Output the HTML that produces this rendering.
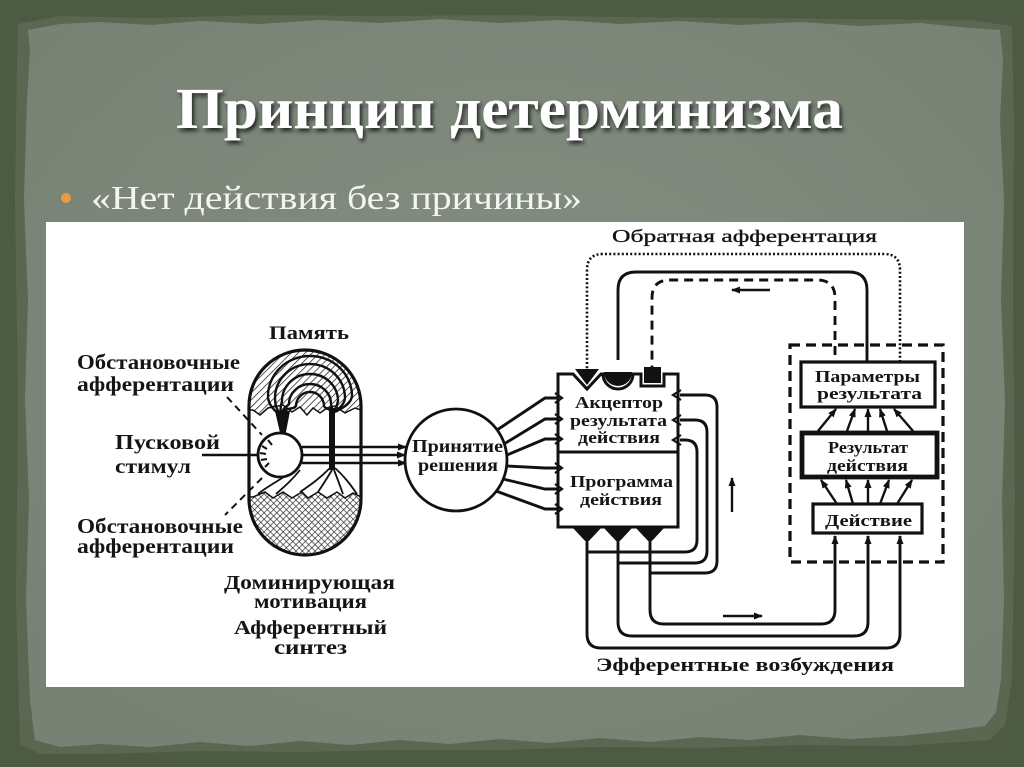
<!DOCTYPE html>
<html>
<head>
<meta charset="utf-8">
<style>
html,body{margin:0;padding:0;width:1024px;height:767px;overflow:hidden;background:#4f5c46;}
svg{display:block;}
.t{font-family:"Liberation Serif","DejaVu Serif",serif;font-weight:bold;fill:#151515;}
.tn{font-family:"Liberation Serif","DejaVu Serif",serif;font-weight:normal;fill:#151515;stroke:#151515;stroke-width:0.35;}
</style>
</head>
<body>
<svg width="1024" height="767" viewBox="0 0 1024 767" xmlns="http://www.w3.org/2000/svg">
<defs>
  <radialGradient id="pg" cx="50%" cy="45%" r="65%">
    <stop offset="0" stop-color="#848e82"/>
    <stop offset="1" stop-color="#778274"/>
  </radialGradient>
  <filter id="sh" x="-5%" y="-20%" width="110%" height="150%">
    <feDropShadow dx="2" dy="3" stdDeviation="2" flood-color="#000" flood-opacity="0.75"/>
  </filter>
  <pattern id="diag" width="5" height="5" patternUnits="userSpaceOnUse" patternTransform="rotate(45)">
    <rect width="5" height="5" fill="#fff"/>
    <line x1="0" y1="0" x2="0" y2="5" stroke="#222" stroke-width="1.5"/>
  </pattern>
  <pattern id="cross" width="4.5" height="4.5" patternUnits="userSpaceOnUse" patternTransform="rotate(45)">
    <rect width="4.5" height="4.5" fill="#fff"/>
    <line x1="0" y1="0" x2="0" y2="4.5" stroke="#222" stroke-width="1.3"/>
    <line x1="0" y1="0" x2="4.5" y2="0" stroke="#222" stroke-width="1.3"/>
  </pattern>
  <marker id="ah" markerWidth="9" markerHeight="7" refX="8" refY="3.5" orient="auto" markerUnits="userSpaceOnUse">
    <path d="M0,0 L9,3.5 L0,7 Z" fill="#111"/>
  </marker>
</defs>

<!-- background bands -->
<rect width="1024" height="767" fill="#4d5a44"/>
<polygon fill="#5b6751" points="18,24 60,16 150,18 260,15 380,16 500,15 620,17 740,18 860,19 970,20 1012,26 1014,120 1013,300 1015,500 1012,680 1005,725 990,740 900,746 800,745 700,748 600,747 500,750 400,750 300,752 200,751 100,754 40,754 20,744 16,600 18,400 15,200 17,60"/>
<!-- paper -->
<polygon fill="url(#pg)" points="28,30 60,24 100,22 150,25 200,21 260,24 320,20 380,23 440,19 500,23 560,20 620,24 680,21 740,25 800,22 860,26 920,23 970,28 1000,30 1003,60 1000,120 1004,200 1001,300 1005,400 1002,500 1004,600 1001,680 996,712 985,726 940,732 900,736 850,739 800,735 750,740 700,737 650,742 600,738 550,743 500,739 450,744 400,740 350,745 300,741 250,746 200,742 150,747 100,744 60,747 35,740 30,700 26,600 29,500 25,400 28,300 24,200 27,100 30,50"/>

<!-- title -->
<text x="176" y="128" textLength="667" lengthAdjust="spacingAndGlyphs" filter="url(#sh)" style="font-family:'Liberation Serif','DejaVu Serif',serif;font-weight:bold;font-size:58px;fill:#ffffff;">Принцип детерминизма</text>

<!-- bullet -->
<circle cx="66" cy="198" r="5" fill="#e89a3c"/>
<text x="91" y="209" textLength="491" lengthAdjust="spacingAndGlyphs" style="font-family:'Liberation Serif','DejaVu Serif',serif;font-size:34px;fill:#f4f4f0;">«Нет действия без причины»</text>

<!-- white diagram panel -->
<rect x="46" y="222" width="918" height="465" fill="#ffffff"/>

<g stroke="#111" fill="none" stroke-width="2.9" stroke-linecap="butt">

  <!-- ===== Capsule (afferent synthesis) ===== -->
  <path d="M249,406 A56,56 0 0 1 361,406 L361,410 L355,408 L345,413 L335,406 L327,408 L320,413 L313,408 L307,415 L300,407 L292,412 L283,405 L268,408 L260,415 L253,410 L249,410 Z" fill="url(#diag)" stroke="#111" stroke-width="1.5"/>
  <path d="M249,497 L253,497 L265,492 L273,498 L283,492 L292,498 L302,492 L308,498 L318,492 L327,498 L337,492 L345,498 L353,493 L361,497 L361,499 A56,56 0 0 1 249,499 Z" fill="url(#cross)" stroke="#111" stroke-width="1.5"/>
  <!-- memory arcs (concentric, converging to connectors) -->
  <g stroke-width="2.4">
    <path d="M283,414 C286,406 294,410 296,406 A14,14 0 0 1 324,406 C326,410 330,408 332,412"/>
    <path d="M282,414 C283,407 286,408 289,404 A21,20 0 0 1 331,404 C332,408 332,409 333,412"/>
    <path d="M281,414 C280,408 281,406 282,401 A28,27 0 0 1 338,401 C337,407 335,409 334,412"/>
    <path d="M280,414 C276,408 275,404 275,398 A35,34 0 0 1 345,398 C344,406 338,409 334,412"/>
    <path d="M279,414 C271,408 268,402 268,396 A42,40 0 0 1 352,396 C351,405 340,409 335,412"/>
  </g>
  <!-- black connectors -->
  <polygon points="275,411 290,411 285,437 281,437" fill="#111" stroke="none"/>
  <rect x="329" y="408" width="6" height="62" fill="#111" stroke="none"/>
  <!-- fan curves to lower zigzag -->
  <path d="M296,468 C285,478 270,484 258,494" stroke-width="1.8"/>
  <path d="M300,470 C292,480 285,486 276,494" stroke-width="1.8"/>
  <path d="M330,468 C320,478 312,484 300,492" stroke-width="1.8"/>
  <path d="M332,470 C326,480 322,486 318,492" stroke-width="1.8"/>
  <path d="M334,470 C338,480 340,486 343,494" stroke-width="1.8"/>
  <path d="M335,468 C344,476 350,484 357,494" stroke-width="1.8"/>
  <!-- capsule outline -->
  <rect x="249" y="350" width="112" height="205" rx="56" ry="56" stroke-width="3.2"/>
  <!-- stimulus circle -->
  <circle cx="280" cy="455" r="22" fill="#fff" stroke-width="2.8"/>
  <g stroke-width="2">
    <line x1="262" y1="446" x2="267" y2="449"/>
    <line x1="260" y1="453" x2="266" y2="454"/>
    <line x1="261" y1="460" x2="267" y2="459"/>
    <line x1="265" y1="467" x2="269" y2="463"/>
    <line x1="268" y1="440" x2="272" y2="445"/>
  </g>
  <!-- stimulus input line -->
  <line x1="202" y1="455" x2="258" y2="455" stroke-width="2.5"/>
  <!-- dashed pointers -->
  <line x1="227" y1="397" x2="262" y2="435" stroke-dasharray="7 5" stroke-width="2"/>
  <line x1="262" y1="478" x2="225" y2="515" stroke-dasharray="7 5" stroke-width="2"/>
  <!-- three lines to decision -->
  <line x1="302" y1="447" x2="406" y2="447" marker-end="url(#ah)" stroke-width="2.5"/>
  <line x1="302" y1="455" x2="405" y2="455" marker-end="url(#ah)" stroke-width="2.5"/>
  <line x1="302" y1="463" x2="406" y2="463" marker-end="url(#ah)" stroke-width="2.5"/>

  <!-- ===== Decision circle ===== -->
  <circle cx="456" cy="460" r="51" fill="#fff" stroke-width="2.8"/>
  <!-- lines to acceptor/program -->
  <path d="M497,430 L545,398 L557,398"/>
  <path d="M504,444 L545,419 L557,419"/>
  <path d="M507,455 L545,439 L557,439"/>
  <path d="M507,466 L545,468 L557,468"/>
  <path d="M503,479 L545,489 L557,489"/>
  <path d="M496,491 L545,509 L557,509"/>

  <!-- ===== Acceptor / Program block ===== -->
  <path d="M558,374 L573,374 L587,389 L601,374 L603,374 A15,15 0 0 0 633,374 L641,374 L641,386 L664,386 L664,374 L678,374 L678,527 L558,527 Z" fill="#fff" stroke-width="3"/>
  <line x1="558" y1="452" x2="678" y2="452" stroke-width="3"/>
  <!-- top notch fillers -->
  <polygon points="575,369 599,369 587,385" fill="#111" stroke="none"/>
  <path d="M604,372 A14,14 0 0 0 632,372 Z" fill="#111" stroke="none"/>
  <rect x="644" y="367" width="17" height="16" fill="#111" stroke="none"/>
  <!-- left chevrons -->
  <g stroke-width="2.2">
    <polyline points="555,393 562,398 555,403"/>
    <polyline points="555,414 562,419 555,424"/>
    <polyline points="555,434 562,439 555,444"/>
    <polyline points="555,463 562,468 555,473"/>
    <polyline points="555,484 562,489 555,494"/>
    <polyline points="555,504 562,509 555,514"/>
    <!-- right chevrons -->
    <polyline points="681,390 673,395 681,400"/>
    <polyline points="681,415 673,420 681,425"/>
    <polyline points="681,435 673,440 681,445"/>
  </g>
  <!-- bottom triangles -->
  <polygon points="572,527 602,527 587,543" fill="#111" stroke="none"/>
  <polygon points="603,527 633,527 618,543" fill="#111" stroke="none"/>
  <polygon points="635,527 665,527 650,543" fill="#111" stroke="none"/>

  <!-- efferent loops to action -->
  <path d="M587,542 L587,634 Q587,648 601,648 L886,648 Q900,648 900,634 L900,536" marker-end="url(#ah)"/>
  <path d="M618,542 L618,622 Q618,636 632,636 L854,636 Q868,636 868,622 L868,536" marker-end="url(#ah)"/>
  <path d="M650,542 L650,610 Q650,624 664,624 L821,624 Q835,624 835,610 L835,536" marker-end="url(#ah)"/>
  <!-- collateral loops back to acceptor -->
  <path d="M587,552 L685,552 Q697,552 697,540 L697,452 Q697,440 685,440 L680,440"/>
  <path d="M618,563 L695,563 Q707,563 707,551 L707,432 Q707,420 695,420 L680,420"/>
  <path d="M650,573 L705,573 Q717,573 717,561 L717,407 Q717,395 705,395 L680,395"/>

  <!-- feedback lines top -->
  <path d="M900,362 L900,270 Q900,254 884,254 L603,254 Q587,254 587,270 L587,370" stroke-dasharray="2 2.2" stroke-width="2.6"/>
  <path d="M867,362 L867,290 Q867,272 849,272 L636,272 Q618,272 618,290 L618,360"/>
  <path d="M835,355 L835,298 Q835,280 817,280 L670,280 Q652,280 652,298 L652,368" stroke-dasharray="9 6"/>

  <!-- small direction arrows -->
  <line x1="770" y1="290" x2="732" y2="290" stroke-width="2.4" marker-end="url(#ah)"/>
  <line x1="723" y1="616" x2="762" y2="616" stroke-width="2.4" marker-end="url(#ah)"/>
  <line x1="732" y1="512" x2="732" y2="478" stroke-width="2.4" marker-end="url(#ah)"/>

  <!-- dashed outer box -->
  <rect x="790" y="345" width="153" height="217" stroke-width="3.2" stroke-dasharray="10 6"/>
  <!-- boxes -->
  <rect x="801" y="362" width="134" height="45" fill="#fff" stroke-width="3.2"/>
  <rect x="802" y="433" width="135" height="44" fill="#fff" stroke-width="4.8"/>
  <rect x="813" y="504" width="109" height="29" fill="#fff" stroke-width="3.2"/>
  <!-- arrows action -> result -->
  <g stroke-width="2.4">
  <line x1="837" y1="504" x2="821" y2="480" marker-end="url(#ah)"/>
  <line x1="853" y1="504" x2="846" y2="480" marker-end="url(#ah)"/>
  <line x1="868" y1="504" x2="868" y2="480" marker-end="url(#ah)"/>
  <line x1="880" y1="504" x2="889" y2="480" marker-end="url(#ah)"/>
  <line x1="897" y1="504" x2="912" y2="480" marker-end="url(#ah)"/>
  <!-- arrows result -> parameters -->
  <line x1="818" y1="431" x2="836" y2="409" marker-end="url(#ah)"/>
  <line x1="847" y1="431" x2="855" y2="409" marker-end="url(#ah)"/>
  <line x1="868" y1="431" x2="868" y2="409" marker-end="url(#ah)"/>
  <line x1="887" y1="431" x2="880" y2="409" marker-end="url(#ah)"/>
  <line x1="913" y1="431" x2="894" y2="409" marker-end="url(#ah)"/>
  </g>
</g>

<!-- ===== Labels ===== -->
<g class="t">
  <text x="269" y="339" font-size="19" textLength="80" lengthAdjust="spacingAndGlyphs">Память</text>
  <text x="77" y="369" font-size="21" textLength="163" lengthAdjust="spacingAndGlyphs">Обстановочные</text>
  <text x="77" y="391" font-size="21" textLength="157" lengthAdjust="spacingAndGlyphs">афферентации</text>
  <text x="115" y="449" font-size="21" textLength="105" lengthAdjust="spacingAndGlyphs">Пусковой</text>
  <text x="115" y="473" font-size="21" textLength="76" lengthAdjust="spacingAndGlyphs">стимул</text>
  <text x="77" y="533" font-size="21" textLength="166" lengthAdjust="spacingAndGlyphs">Обстановочные</text>
  <text x="77" y="553" font-size="21" textLength="157" lengthAdjust="spacingAndGlyphs">афферентации</text>
  <text x="224" y="589" font-size="20" textLength="171" lengthAdjust="spacingAndGlyphs">Доминирующая</text>
  <text x="254" y="608" font-size="20" textLength="113" lengthAdjust="spacingAndGlyphs">мотивация</text>
  <text x="234" y="634" font-size="20" textLength="153" lengthAdjust="spacingAndGlyphs">Афферентный</text>
  <text x="274" y="654" font-size="20" textLength="73" lengthAdjust="spacingAndGlyphs">синтез</text>

  <text x="412" y="452" font-size="18" textLength="91" lengthAdjust="spacingAndGlyphs">Принятие</text>
  <text x="418" y="471" font-size="18" textLength="80" lengthAdjust="spacingAndGlyphs">решения</text>

  <text x="575" y="408" font-size="17" textLength="88" lengthAdjust="spacingAndGlyphs">Акцептор</text>
  <text x="570" y="426" font-size="17" textLength="97" lengthAdjust="spacingAndGlyphs">результата</text>
  <text x="578" y="443" font-size="17" textLength="82" lengthAdjust="spacingAndGlyphs">действия</text>
  <text x="570" y="487" font-size="17" textLength="103" lengthAdjust="spacingAndGlyphs">Программа</text>
  <text x="580" y="505" font-size="17" textLength="82" lengthAdjust="spacingAndGlyphs">действия</text>

  <text x="815" y="382" font-size="17" textLength="105" lengthAdjust="spacingAndGlyphs">Параметры</text>
  <text x="817" y="399" font-size="17" textLength="105" lengthAdjust="spacingAndGlyphs">результата</text>
  <text x="828" y="453" font-size="17" textLength="80" lengthAdjust="spacingAndGlyphs">Результат</text>
  <text x="827" y="471" font-size="17" textLength="81" lengthAdjust="spacingAndGlyphs">действия</text>
  <text x="825" y="526" font-size="17" textLength="87" lengthAdjust="spacingAndGlyphs">Действие</text>

  <text x="596" y="671" font-size="19" textLength="298" lengthAdjust="spacingAndGlyphs">Эфферентные возбуждения</text>
</g>
<text class="tn" x="612" y="242" font-size="18" textLength="265" lengthAdjust="spacingAndGlyphs">Обратная афферентация</text>
</svg>
</body>
</html>
